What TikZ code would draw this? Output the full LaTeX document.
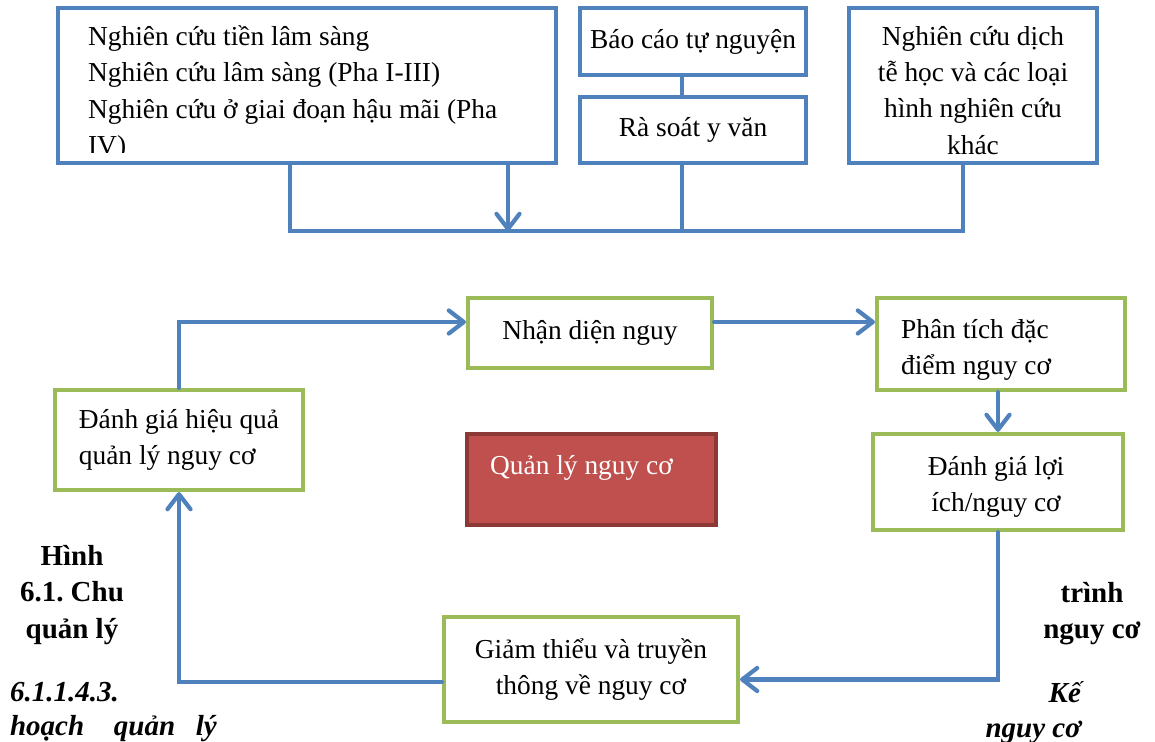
\documentclass[tikz,border=0pt]{standalone}
\usepackage{fontspec}
\setmainfont{Liberation Serif}
\usetikzlibrary{arrows.meta}
\definecolor{lineblue}{RGB}{79,129,189}
\definecolor{boxgreen}{RGB}{155,187,89}
\definecolor{corered}{RGB}{192,80,77}
\definecolor{coreedge}{RGB}{140,56,54}
\frenchspacing

\begin{document}
\begin{tikzpicture}[
 x=0.02cm, y=-0.02cm,
 line width=2.4pt,
 >={Straight Barb[length=3mm,width=4.6mm,round]},
 align=center,
 inner sep=0pt,
 font=\fontsize{15.6}{20.6}\selectfont,
 source/.style={draw=lineblue,rectangle,fill=white},
 stage/.style={draw=boxgreen,rectangle,fill=white},
 core/.style={draw=coreedge,rectangle,fill=corered},
 flow/.style={draw=lineblue,line cap=round},
 caption/.style={font=\fontsize{16.5}{20.6}\selectfont\bfseries},
 subhead/.style={font=\fontsize{16.5}{19.8}\selectfont\bfseries\itshape}
]
\useasboundingbox (0,0) rectangle (1155,742);
% sources of information
\node (preclinical-box) [source,minimum width=9.96cm,minimum height=3.1cm] at (307,85.5) {};
\begin{scope}
\clip (58,8) rectangle (556,153);
\node (preclinical-text) [align=left,anchor=west] at (86,93) {Nghiên cứu tiền lâm sàng\\Nghiên cứu lâm sàng (Pha I-III)\\Nghiên cứu ở giai đoạn hậu mãi (Pha\\IV)};
\end{scope}
\node (report-box) [source,minimum width=4.52cm,minimum height=1.34cm] at (693,41.5) {Báo cáo tự nguyện};
\node (review-box) [source,minimum width=4.52cm,minimum height=1.32cm] at (693,130) {Rà soát y văn};
\node (epi-box) [source,minimum width=4.96cm,minimum height=3.1cm] at (973,85.5) {};
\node (epi-text) at (973,90.5) {Nghiên cứu dịch\\tễ học và các loại\\hình nghiên cứu\\khác};
\coordinate (merge-left) at (290,231);
\coordinate (merge-right) at (963,231);
\coordinate (merge-in) at (508,231);
\coordinate (review-out) at (682,231);
\draw[flow] (preclinical-box.south -| merge-left) |- (merge-right) -- (epi-box.south -| merge-right);
\draw[flow] (review-box.south -| review-out) -- (review-out);
\draw[flow] (report-box.south -| review-out) -- (review-box.north -| review-out);
\draw[flow,->] (preclinical-box.south -| merge-in) -- (merge-in);
% risk management cycle
\node (identify-box) [stage,minimum width=4.88cm,minimum height=1.4cm] at (590,333) {Nhận diện nguy};
\node (analyse-box) [stage,minimum width=4.96cm,minimum height=1.84cm] at (1001,344) {};
\node (analyse-text) [align=left,anchor=west] at (899,350) {Phân tích đặc\\điểm nguy cơ};
\node (assess-box) [stage,minimum width=5cm,minimum height=1.92cm] at (998,482) {};
\node (assess-text) at (996,487) {Đánh giá lợi\\ích/nguy cơ};
\node (core-box) [core,minimum width=4.98cm,minimum height=1.82cm] at (591.5,479.5) {};
\node (core-text) [anchor=west,text=white] at (488,468) {Quản lý nguy cơ};
\node (minimise-box) [stage,minimum width=5.88cm,minimum height=2.1cm] at (591,669.5) {Giảm thiểu và truyền\\thông về nguy cơ};
\node (evaluate-box) [stage,minimum width=4.96cm,minimum height=2cm,align=left] at (179,440) {Đánh giá hiệu quả\\quản lý nguy cơ};
\draw[flow,->] (evaluate-box.north) |- ([yshift=0.22cm]identify-box.west);
\draw[flow,->] ([yshift=0.22cm]identify-box.east) -- ([yshift=0.22cm]identify-box.east -| analyse-box.west);
\draw[flow,->] (analyse-box.south -| assess-box) -- (assess-box.north);
\draw[flow,->] (assess-box.south) |- ([yshift=-0.2cm]minimise-box.east);
\draw[flow,->] ([yshift=-0.25cm]minimise-box.west) -| (evaluate-box.south);
% stray caption text
\node (fig-caption) [caption] at (72,595) {Hình\\6.1. Chu\\quản lý};
\node (fig-caption-right) [caption] at (1092,614) {trình\\nguy cơ};
\node (plan-heading) [subhead,align=left,anchor=west] at (8,712) {6.1.1.4.3.\\hoạch\hspace{0.45cm} quản\hspace{0.27cm} lý};
\node (plan-heading-right) [subhead,align=right,anchor=east] at (1083,713) {Kế\\nguy cơ};
\end{tikzpicture}
\end{document}
